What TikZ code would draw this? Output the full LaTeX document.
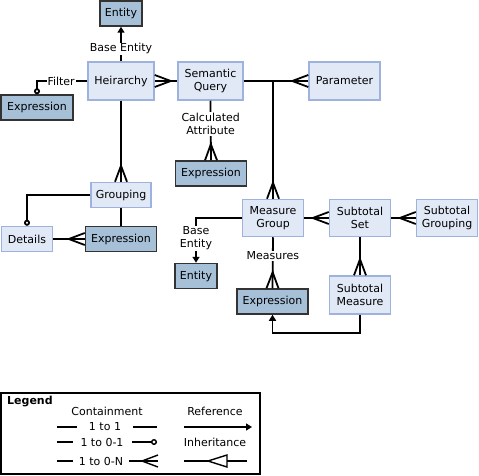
\documentclass[tikz,border=0pt]{standalone}
\usepackage{fontspec}
\setmainfont{DejaVu Sans}
\usepackage{xcolor}
\usetikzlibrary{arrows.meta}
\definecolor{paleblue}{HTML}{E2E9F6}
\definecolor{edgeblue}{HTML}{9DB2DC}
\definecolor{steel}{HTML}{A6C0D8}
\definecolor{ink}{HTML}{333333}

% crow's foot, many end
\pgfdeclarearrow{
  name = crow,
  setup code = {
    \pgfarrowssettipend{0pt}
    \pgfarrowssetlineend{0pt}
    \pgfarrowssetbackend{-16pt}
    \pgfarrowssetvisualbackend{-16pt}
    \pgfarrowshullpoint{0pt}{6pt}
    \pgfarrowshullpoint{0pt}{-6pt}
    \pgfarrowshullpoint{-16pt}{0pt}
  },
  drawing code = {
    \pgfpathmoveto{\pgfqpoint{0pt}{6pt}}
    \pgfpathlineto{\pgfqpoint{-16pt}{0pt}}
    \pgfpathlineto{\pgfqpoint{0pt}{-6pt}}
    \pgfusepathqstroke
  },
}

\begin{document}
\begin{tikzpicture}[
    x=1pt, y=-1pt,
    font=\fontsize{11}{13}\selectfont,
    box/.style={
        minimum width=61pt,
        minimum height=25pt,
        inner sep=1pt,
        align=center,
    },
    light/.style={box, draw=edgeblue, fill=paleblue, line width=1.5pt},
    dark/.style={box, draw=ink, fill=steel, line width=1.5pt},
    lbl/.style={fill=white, inner sep=1pt, align=center},
    link/.style={line width=1.8pt, black},
    ref/.style={link, -{Triangle[length=6pt,width=7pt]}},
    opt/.style={link, -{Circle[open,length=6pt,width=6pt]}},
    many/.style={link, -crow},
]
\useasboundingbox (0,0) rectangle (479,476);

\node[dark, minimum width=42pt] (entTop) at (121, 13.5) {Entity};
\node[light, minimum width=66pt, minimum height=38pt] (hier) at (121, 81) {Heirarchy};
\node[dark, minimum width=72pt] (exprFilter) at (37, 107.5) {Expression};
\node[light, minimum width=65pt, minimum height=38pt] (query) at (210.5, 81) {Semantic\\Query};
\node[light, minimum width=71pt, minimum height=38pt] (param) at (344.5, 81) {Parameter};
\node[dark, minimum width=71pt] (exprCalc) at (211, 173.5) {Expression};
\node[light, minimum width=60pt] (grouping) at (121, 195) {Grouping};
\node[light, minimum width=51pt] (details) at (27, 239) {Details};
\node[dark, minimum width=71pt] (exprGroup) at (121, 239) {Expression};
\node[light, minimum height=37pt] (mgroup) at (273, 218) {Measure\\Group};
\node[light, minimum height=37pt] (subSet) at (360, 218) {Subtotal\\Set};
\node[light, minimum height=37pt] (subGroup) at (447, 218) {Subtotal\\Grouping};
\node[dark, minimum width=42pt] (entBottom) at (196, 276) {Entity};
\node[dark, minimum width=71pt] (exprMeasure) at (272.5, 301.5) {Expression};
\node[light, minimum height=38pt] (subMeasure) at (360, 295) {Subtotal\\Measure};

\draw[ref] (hier.north) -- (entTop.south) node[lbl, pos=0.36] {Base Entity};
\draw[opt] (hier.west) -| (exprFilter.north) node[lbl, pos=0.26] {Filter};
\draw[link, crow-] (hier.east) -- (query.west);
\draw[many] (query.south) -- (exprCalc.north) node[lbl, pos=0.39] {Calculated\\Attribute};
\draw[many] (query.east) -- (param.west);
\draw[many] (query.east -| mgroup.north) -- (mgroup.north);
\draw[many] (hier.south) -- (grouping.north);
\draw[opt] (grouping.west) -| (details.north);
\draw[link] (grouping.south) -- (exprGroup.north);
\draw[many] (details.east) -- (exprGroup.west);
\draw[ref] (mgroup.west) -| (entBottom.north) node[lbl, pos=0.73] {Base\\Entity};
\draw[many] (mgroup.south) -- (exprMeasure.north) node[lbl, pos=0.36] {Measures};
\draw[many] (mgroup.east) -- (subSet.west);
\draw[many] (subSet.east) -- (subGroup.west);
\draw[many] (subSet.south) -- (subMeasure.north);
\draw[ref] (subMeasure.south) -- ++(0, 18) -| (exprMeasure.south);

% legend
\draw[line width=1.3pt] (1, 393) rectangle (260, 474);
\node[anchor=north west, inner sep=0pt, font=\fontsize{11}{13}\selectfont\bfseries] (legend) at (7, 396) {Legend};
\node (contain) at (107, 411) {Containment};
\node (refer) at (215, 411) {Reference};
\node (oneOne) at (105, 427) {1 to 1};
\node (oneOpt) at (102, 442) {1 to 0-1};
\node (oneMany) at (101, 461) {1 to 0-N};
\node (inherit) at (215, 442) {Inheritance};
\draw[link, line width=1.4pt] (57, 427) -- (77, 427);
\draw[link, line width=1.4pt] (133, 427) -- (157, 427);
\draw[ref, line width=1.4pt] (184, 427) -- (252, 427);
\draw[link, line width=1.4pt] (57, 442) -- (73, 442);
\draw[opt, line width=1.4pt] (132, 442) -- (157, 442);
\draw[link, line width=1.4pt] (57, 461) -- (73, 461);
\draw[many, line width=1.4pt] (129, 461) -- (158, 461);
\draw[link, line width=1.4pt] (184, 461) -- (208, 461);
\draw[link, line width=1.4pt] (208, 461) -- (227, 455) -- (227, 467) -- cycle;
\draw[link, line width=1.4pt] (227, 461) -- (247, 461);

\end{tikzpicture}
\end{document}
